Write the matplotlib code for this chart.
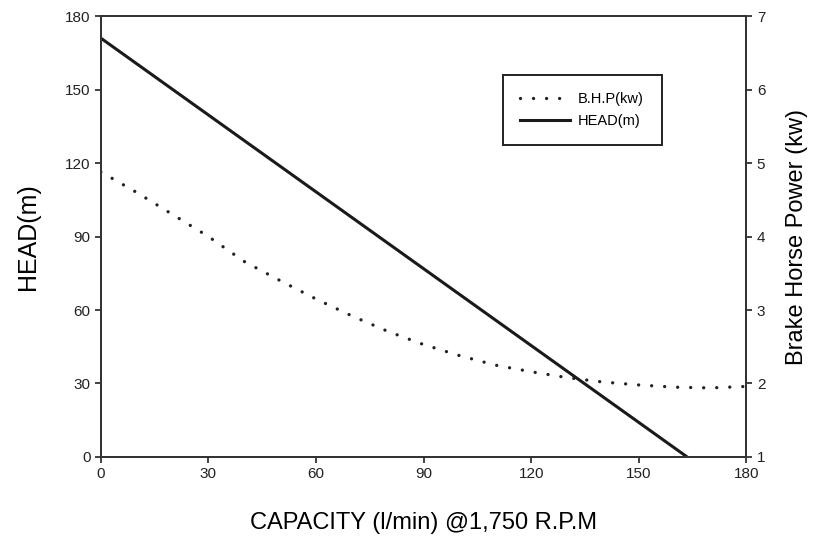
import matplotlib.pyplot as plt

plt.rcParams['font.family'] = ['Liberation Sans', 'DejaVu Sans']

# capacity (l/min)
head_x = [0, 163.5]
head_y = [171, 0]

bhp_x = [0, 10, 20, 30, 40, 50, 60, 70, 80, 90, 100, 110, 120, 130, 140, 150, 160, 170, 180]
bhp_y = [4.88, 4.6, 4.3, 4.0, 3.66, 3.4, 3.15, 2.92, 2.71, 2.53, 2.38, 2.25, 2.16, 2.08,
         2.02, 1.98, 1.95, 1.94, 1.96]

x_ticks = [0, 30, 60, 90, 120, 150, 180]
left_ticks = [0, 30, 60, 90, 120, 150, 180]
right_ticks = [1, 2, 3, 4, 5, 6, 7]

fig = plt.figure(figsize=(8.13, 5.45), dpi=100)
ax = fig.add_axes([0.124, 0.1615, 0.794, 0.809])
ax2 = ax.twinx()

bhp_line, = ax2.plot(bhp_x, bhp_y, color='#222222', lw=2.4, linestyle=(0, (0.01, 3.9)),
                     dash_capstyle='round', label='B.H.P(kw)')
head_line, = ax.plot(head_x, head_y, color='#1a1a1a', lw=2.2, label='HEAD(m)')

ax.set_xlim(0, 180)
ax.set_ylim(0, 180)
ax2.set_ylim(1, 7)
ax.set_xticks(x_ticks)
ax.set_yticks(left_ticks)
ax2.set_yticks(right_ticks)

for a in (ax, ax2):
    for s in a.spines.values():
        s.set_linewidth(1.4)
        s.set_color('#333333')
    a.tick_params(direction='out', length=4, width=1.2, labelsize=11, colors='#222222')

ax.set_xlabel('CAPACITY (l/min) @1,750 R.P.M', fontsize=17, labelpad=22)
ax.set_ylabel('HEAD(m)', fontsize=18, labelpad=18)
ax2.set_ylabel('Brake Horse Power (kw)', fontsize=17, labelpad=15)

leg = ax.legend([bhp_line, head_line], ['B.H.P(kw)', 'HEAD(m)'],
                loc='lower left', bbox_to_anchor=(0.623, 0.707, 0.247, 0.159), mode='expand',
                borderaxespad=0, fancybox=False, edgecolor='#222222', fontsize=10.5,
                borderpad=1.2, handlelength=3.4, handletextpad=0.5, framealpha=1)
leg.get_frame().set_linewidth(1.4)

plt.savefig('out.png', dpi=100)
